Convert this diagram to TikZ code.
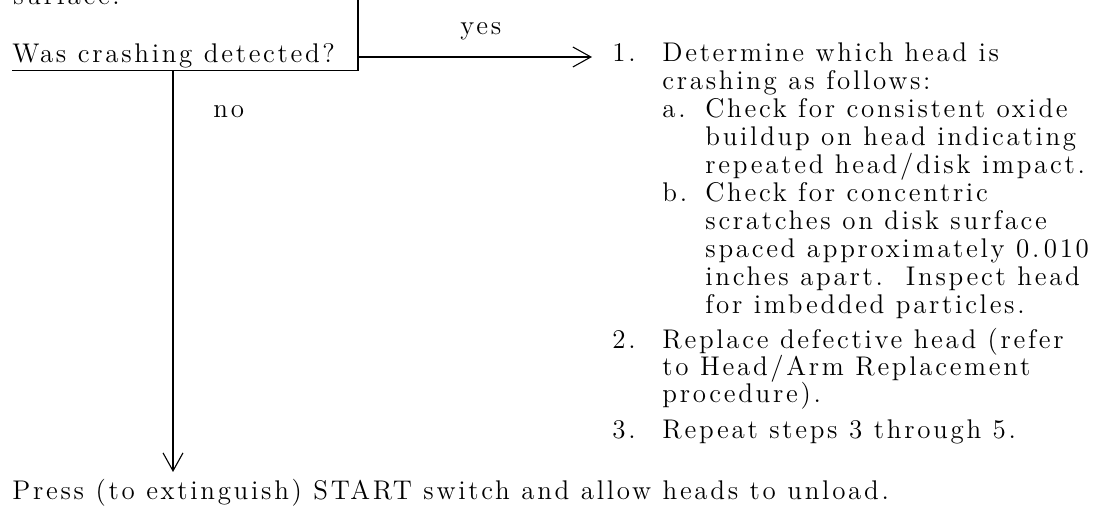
\documentclass[tikz,border=0pt]{standalone}
\usepackage{fontspec}
\setmainfont{Latin Modern Roman}[LetterSpace=10]
\usetikzlibrary{arrows.meta}
\begin{document}
\begin{tikzpicture}[x=0.5pt,y=-0.5pt,
  txt/.style={anchor=base west,inner sep=0pt,font=\fontsize{13.5}{15}\selectfont},
  line/.style={line width=0.55pt},
  arr/.style={line width=0.55pt,-{Straight Barb[length=9pt,width=10pt,line width=0.55pt]}}]
\useasboundingbox (0,0) rectangle (1112,522);
% top text (cut off at the top edge, as in the reference)
\node[txt] (surf) at (13,5) {surface.};
% decision
\node[txt] (q) at (12,63) {Was crashing detected?};
\coordinate (top) at (358,-4);
\coordinate (corner) at (358,70.7);
\coordinate (ul) at (12,70.7);
\draw[line] (ul) -- (corner) -- (top);
% yes branch
\coordinate (ys) at (358,57);
\coordinate (yt) at (592,57);
\draw[arr] (ys) -- (yt);
\node[txt] (yes) at (460,35) {yes};
% no branch
\coordinate (ns) at (173,70.7);
\coordinate (nt) at (173,472);
\draw[arr] (ns) -- (nt);
\node[txt] (no) at (213,118) {no};
% right column
\node[txt] (n1) at (612,62) {1.};
\node[txt] (r1) at (662,62) {Determine which head is};
\node[txt] (r2) at (662,90) {crashing as follows:};
\node[txt] (na) at (662,118) {a.};
\node[txt] (r3) at (705,118) {Check for consistent oxide};
\node[txt] (r4) at (705,146) {buildup on head indicating};
\node[txt] (r5) at (705,174) {repeated head/disk impact.};
\node[txt] (nb) at (662,202) {b.};
\node[txt] (r6) at (705,202) {Check for concentric};
\node[txt] (r7) at (705,230) {scratches on disk surface};
\node[txt] (r8) at (705,258) {spaced approximately 0.\,010};
\node[txt] (r9) at (705,286) {inches apart.\ \ Inspect head};
\node[txt] (r10) at (705,314) {for imbedded particles.};
\node[txt] (n2) at (612,349) {2.};
\node[txt] (r11) at (662,349) {Replace defective head (refer};
\node[txt] (r12) at (662,376) {to Head/Arm Replacement};
\node[txt] (r13) at (662,403) {procedure).};
\node[txt] (n3) at (612,439) {3.};
\node[txt] (r14) at (662,439) {Repeat steps 3 through 5.};
% bottom
\node[txt] (press) at (12,500) {Press (to extinguish) START switch and allow heads to unload.};
\end{tikzpicture}
\end{document}
